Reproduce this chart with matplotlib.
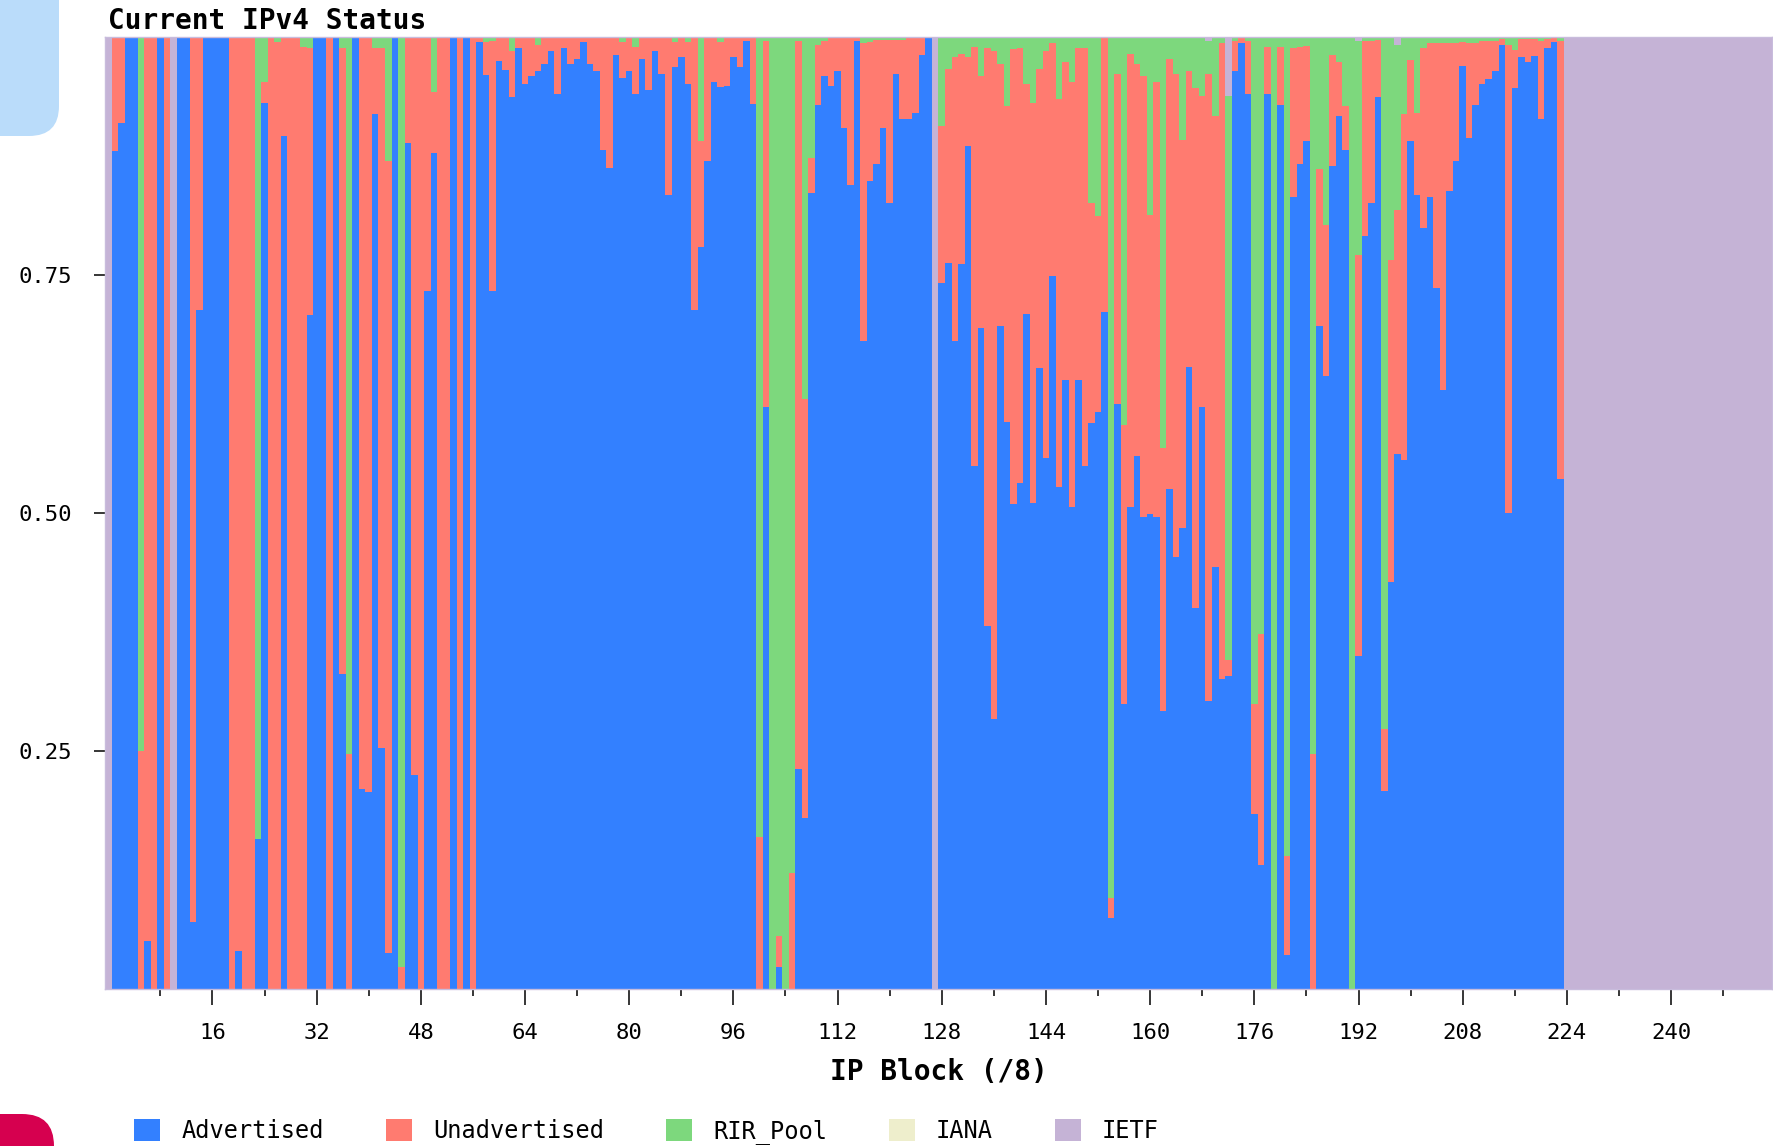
import numpy as np
import matplotlib
matplotlib.use("Agg")
import matplotlib.pyplot as plt
from matplotlib.patches import Rectangle, FancyBboxPatch

plt.rcParams['font.family'] = ['DejaVu Sans Mono', 'DejaVu Sans']

# share of each /8 block (blocks 0..255, 16 per row)
advertised = [
    0, 0.88, 0.91, 1, 1, 0, 0.05, 0, 1, 0, 0, 1, 1, 0.07, 0.713, 1,
    1, 1, 1, 0, 0.04, 0, 0, 0.158, 0.931, 0, 0, 0.896, 0, 0, 0, 0.708,
    1, 1, 0, 1, 0.331, 0, 1, 0.21, 0.207, 0.919, 0.253, 0.038, 1, 0, 0.889, 0.225,
    0, 0.733, 0.878, 0, 0, 1, 0, 1, 0, 0.995, 0.96, 0.733, 0.975, 0.965, 0.937, 0.988,
    0.951, 0.959, 0.964, 0.972, 0.985, 0.94, 0.988, 0.972, 0.977, 0.995, 0.972, 0.964, 0.881, 0.862, 0.981, 0.957,
    0.964, 0.94, 0.977, 0.944, 0.985, 0.961, 0.834, 0.969, 0.979, 0.951, 0.713, 0.779, 0.87, 0.953, 0.948, 0.949,
    0.979, 0.968, 0.996, 0.93, 0, 0.611, 0, 0.023, 0, 0, 0.231, 0.18, 0.836, 0.929, 0.959, 0.949,
    0.964, 0.904, 0.845, 0.996, 0.681, 0.849, 0.867, 0.904, 0.826, 0.961, 0.914, 0.914, 0.92, 0.981, 1, 0,
    0.742, 0.763, 0.681, 0.762, 0.886, 0.549, 0.694, 0.381, 0.284, 0.696, 0.596, 0.509, 0.532, 0.709, 0.511, 0.652,
    0.558, 0.749, 0.527, 0.64, 0.506, 0.64, 0.549, 0.595, 0.606, 0.711, 0.075, 0.614, 0.299, 0.506, 0.56, 0.496,
    0.499, 0.496, 0.292, 0.525, 0.454, 0.484, 0.653, 0.40, 0.611, 0.303, 0.443, 0.326, 0.329, 0.964, 0.994, 0.94,
    0.184, 0.13, 0.94, 0, 0.929, 0.036, 0.832, 0.867, 0.891, 0, 0.696, 0.644, 0.864, 0.917, 0.881, 0,
    0.35, 0.791, 0.826, 0.937, 0.208, 0.427, 0.562, 0.556, 0.891, 0.834, 0.799, 0.832, 0.736, 0.629, 0.838, 0.87,
    0.97, 0.894, 0.929, 0.951, 0.956, 0.964, 0.992, 0.5, 0.946, 0.979, 0.974, 0.98, 0.914, 0.988, 0.995, 0.536,
    0, 0, 0, 0, 0, 0, 0, 0, 0, 0, 0, 0, 0, 0, 0, 0,
    0, 0, 0, 0, 0, 0, 0, 0, 0, 0, 0, 0, 0, 0, 0, 0,
]

unadvertised = [
    0, 0.12, 0.09, 0, 0, 0.25, 0.95, 1, 0, 1, 0, 0, 0, 0.93, 0.287, 0,
    0, 0, 0, 1, 0.96, 1, 1, 0, 0.022, 1, 0.995, 0.104, 1, 1, 0.99, 0.28,
    0, 0, 1, 0, 0.657, 0.247, 0, 0.79, 0.793, 0.069, 0.735, 0.832, 0, 0.023, 0.111, 0.775,
    1, 0.267, 0.064, 1, 1, 0, 1, 0, 1, 0.005, 0.035, 0.263, 0.025, 0.035, 0.048, 0.012,
    0.049, 0.041, 0.028, 0.028, 0.015, 0.06, 0.012, 0.028, 0.023, 0.005, 0.028, 0.036, 0.119, 0.138, 0.019, 0.038,
    0.036, 0.05, 0.023, 0.056, 0.015, 0.039, 0.166, 0.026, 0.021, 0.044, 0.287, 0.112, 0.13, 0.047, 0.047, 0.051,
    0.021, 0.032, 0.004, 0.07, 0.16, 0.385, 0, 0.033, 0, 0.122, 0.765, 0.44, 0.037, 0.063, 0.037, 0.051,
    0.036, 0.096, 0.155, 0.004, 0.313, 0.146, 0.13, 0.093, 0.171, 0.036, 0.083, 0.086, 0.08, 0.019, 0, 0,
    0.165, 0.203, 0.298, 0.22, 0.093, 0.441, 0.265, 0.607, 0.701, 0.276, 0.331, 0.478, 0.456, 0.242, 0.42, 0.314,
    0.427, 0.245, 0.408, 0.334, 0.447, 0.348, 0.439, 0.231, 0.206, 0.289, 0.021, 0.347, 0.293, 0.476, 0.412, 0.463,
    0.314, 0.457, 0.276, 0.452, 0.507, 0.408, 0.311, 0.546, 0.327, 0.658, 0.474, 0.668, 0.017, 0.032, 0.006, 0.056,
    0.115, 0.243, 0.05, 0, 0.06, 0.104, 0.156, 0.123, 0.1, 0.247, 0.165, 0.158, 0.117, 0.057, 0.047, 0,
    0.421, 0.205, 0.17, 0.06, 0.065, 0.339, 0.256, 0.363, 0.085, 0.086, 0.189, 0.162, 0.258, 0.365, 0.156, 0.124,
    0.025, 0.1, 0.065, 0.045, 0.04, 0.032, 0.006, 0.492, 0.04, 0.019, 0.024, 0.018, 0.082, 0.01, 0.005, 0.46,
    0, 0, 0, 0, 0, 0, 0, 0, 0, 0, 0, 0, 0, 0, 0, 0,
    0, 0, 0, 0, 0, 0, 0, 0, 0, 0, 0, 0, 0, 0, 0, 0,
]

rir_pool = [
    0, 0, 0, 0, 0, 0.75, 0, 0, 0, 0, 0, 0, 0, 0, 0, 0,
    0, 0, 0, 0, 0, 0, 0, 0.842, 0.047, 0, 0.005, 0, 0, 0, 0.01, 0.012,
    0, 0, 0, 0, 0.012, 0.753, 0, 0, 0, 0.012, 0.012, 0.13, 0, 0.977, 0, 0,
    0, 0, 0.058, 0, 0, 0, 0, 0, 0, 0, 0.005, 0.004, 0, 0, 0.015, 0,
    0, 0, 0.008, 0, 0, 0, 0, 0, 0, 0, 0, 0, 0, 0, 0, 0.005,
    0, 0.01, 0, 0, 0, 0, 0, 0.005, 0, 0.005, 0, 0.109, 0, 0, 0.005, 0,
    0, 0, 0, 0, 0.84, 0.004, 1, 0.944, 1, 0.878, 0.004, 0.38, 0.127, 0.008, 0.004, 0,
    0, 0, 0, 0, 0.006, 0.005, 0.003, 0.003, 0.003, 0.003, 0.003, 0, 0, 0, 0, 0,
    0.093, 0.034, 0.021, 0.018, 0.021, 0.01, 0.041, 0.012, 0.015, 0.028, 0.073, 0.013, 0.012, 0.049, 0.069, 0.034,
    0.015, 0.006, 0.065, 0.026, 0.047, 0.012, 0.012, 0.174, 0.188, 0, 0.904, 0.039, 0.408, 0.018, 0.028, 0.041,
    0.187, 0.047, 0.432, 0.023, 0.039, 0.108, 0.036, 0.054, 0.062, 0.035, 0.083, 0.006, 0.592, 0.004, 0, 0.004,
    0.701, 0.627, 0.01, 1, 0.011, 0.86, 0.012, 0.01, 0.009, 0.753, 0.139, 0.198, 0.019, 0.026, 0.072, 1,
    0.225, 0.004, 0.004, 0.003, 0.727, 0.234, 0.174, 0.081, 0.024, 0.08, 0.012, 0.006, 0.006, 0.006, 0.006, 0.006,
    0.005, 0.006, 0.006, 0.004, 0.004, 0.004, 0.002, 0.008, 0.014, 0.002, 0.002, 0.002, 0.004, 0.002, 0, 0.004,
    0, 0, 0, 0, 0, 0, 0, 0, 0, 0, 0, 0, 0, 0, 0, 0,
    0, 0, 0, 0, 0, 0, 0, 0, 0, 0, 0, 0, 0, 0, 0, 0,
]

# nothing is left in the IANA pool
iana = [0.0] * 256

ietf = [
    1, 0, 0, 0, 0, 0, 0, 0, 0, 0, 1, 0, 0, 0, 0, 0,
    0, 0, 0, 0, 0, 0, 0, 0, 0, 0, 0, 0, 0, 0, 0, 0,
    0, 0, 0, 0, 0, 0, 0, 0, 0, 0, 0, 0, 0, 0, 0, 0,
    0, 0, 0, 0, 0, 0, 0, 0, 0, 0, 0, 0, 0, 0, 0, 0,
    0, 0, 0, 0, 0, 0, 0, 0, 0, 0, 0, 0, 0, 0, 0, 0,
    0, 0, 0, 0, 0, 0, 0, 0, 0, 0, 0, 0, 0, 0, 0, 0,
    0, 0, 0, 0, 0, 0, 0, 0, 0, 0, 0, 0, 0, 0, 0, 0,
    0, 0, 0, 0, 0, 0, 0, 0, 0, 0, 0, 0, 0, 0, 0, 1,
    0, 0, 0, 0, 0, 0, 0, 0, 0, 0, 0, 0, 0, 0, 0, 0,
    0, 0, 0, 0, 0, 0, 0, 0, 0, 0, 0, 0, 0, 0, 0, 0,
    0, 0, 0, 0, 0, 0, 0, 0, 0, 0.004, 0, 0, 0.062, 0, 0, 0,
    0, 0, 0, 0, 0, 0, 0, 0, 0, 0, 0, 0, 0, 0, 0, 0,
    0.004, 0, 0, 0, 0, 0, 0.008, 0, 0, 0, 0, 0, 0, 0, 0, 0,
    0, 0, 0, 0, 0, 0, 0, 0, 0, 0, 0, 0, 0, 0, 0, 0,
    1, 1, 1, 1, 1, 1, 1, 1, 1, 1, 1, 1, 1, 1, 1, 1,
    1, 1, 1, 1, 1, 1, 1, 1, 1, 1, 1, 1, 1, 1, 1, 1,
]

labels = ['Advertised', 'Unadvertised', 'RIR_Pool', 'IANA', 'IETF']
colors = ['#3380ff', '#ff7b70', '#7dd87d', '#eeeecc', '#c5b3d6']
tick_blocks = [16, 32, 48, 64, 80, 96, 112, 128, 144, 160, 176, 192, 208, 224, 240]
minor_blocks = [8, 24, 40, 56, 72, 88, 104, 120, 136, 152, 168, 184, 200, 216, 232, 248]

W, H = 1774, 1146
fig = plt.figure(figsize=(W / 100, H / 100), dpi=100)
ax = fig.add_axes([105 / W, 1 - 989 / H, (1772 - 105) / W, (989 - 37) / H])

blocks = np.arange(256)
series = [advertised, unadvertised, rir_pool, iana, ietf]
bottom = np.zeros(256)
for vals, col in zip(series, colors):
    vals = np.array(vals, dtype=float)
    ax.bar(blocks, vals, width=1.0, bottom=bottom, align='edge',
           color=col, linewidth=0)
    bottom += vals

ax.set_xlim(0, 256)
ax.set_ylim(0, 1)

ax.set_xticks(np.array(tick_blocks) + 0.5)
ax.set_xticklabels([str(t) for t in tick_blocks], fontsize=16)
ax.set_xticks(np.array(minor_blocks) + 0.5, minor=True)
ax.set_yticks([0.25, 0.5, 0.75])
ax.set_yticklabels(['0.25', '0.50', '0.75'], fontsize=16)

ax.tick_params(axis='x', which='major', length=11.5, width=1.1, pad=13, color='black')
ax.tick_params(axis='x', which='minor', length=5, width=1.1, color='black')
ax.tick_params(axis='y', length=8, width=1.1, pad=16, color='black')

for s in ax.spines.values():
    s.set_color('#c8bcdc')
    s.set_linewidth(1)

ax.set_xlabel('IP Block (/8)', fontsize=20, fontweight='bold', labelpad=11)

fig.text(108 / W, 1 - 21 / H, 'Current IPv4 Status', fontsize=20,
         fontweight='bold', ha='left', va='center')

handles = [Rectangle((0, 0), 1, 1, facecolor=c, edgecolor='none') for c in colors]
fig.legend(handles, labels, loc='center left', bbox_to_anchor=(134 / W, 0.0125),
           ncol=5, frameon=False, prop={'size': 17}, handlelength=1.1,
           handleheight=1.05, handletextpad=0.9, columnspacing=2.62,
           borderpad=0, borderaxespad=0)

# page decorations around the chart
fig.patches.append(FancyBboxPatch((-0.6, H / 100 - 1.36), 1.19, 2.0,
                                  boxstyle='round,pad=0,rounding_size=0.3',
                                  facecolor='#badcfa', edgecolor='none',
                                  transform=fig.dpi_scale_trans, figure=fig))
fig.patches.append(FancyBboxPatch((-0.6, -0.6), 1.14, 0.92,
                                  boxstyle='round,pad=0,rounding_size=0.32',
                                  facecolor='#d6004f', edgecolor='none',
                                  transform=fig.dpi_scale_trans, figure=fig))

fig.savefig('out.png', dpi=100)
